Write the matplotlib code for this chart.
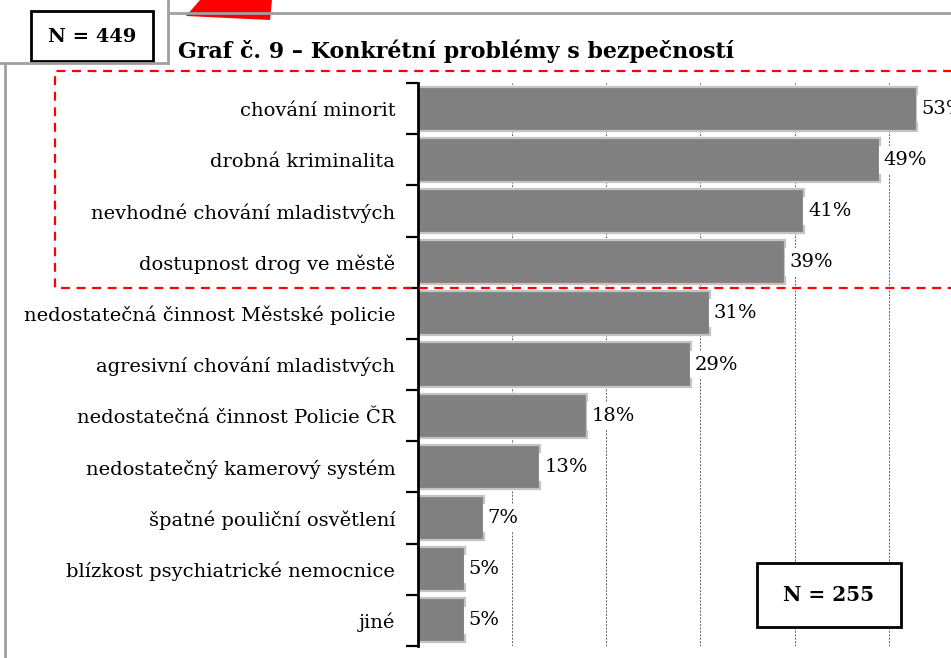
import matplotlib
matplotlib.use("Agg")
import matplotlib.pyplot as plt
from matplotlib.patches import Rectangle, Polygon
from matplotlib.lines import Line2D

# data
categories = [
    "chování minorit",
    "drobná kriminalita",
    "nevhodné chování mladistvých",
    "dostupnost drog ve městě",
    "nedostatečná činnost Městské policie",
    "agresivní chování mladistvých",
    "nedostatečná činnost Policie ČR",
    "nedostatečný kamerový systém",
    "špatné pouliční osvětlení",
    "blízkost psychiatrické nemocnice",
    "jiné",
]
values = [53, 49, 41, 39, 31, 29, 18, 13, 7, 5, 5]
title = "Graf č. 9 – Konkrétní problémy s bezpečností"
n_total = "N = 449"
n_chart = "N = 255"

W, H = 951, 658
FONT = "DejaVu Serif"
plt.rcParams["font.family"] = [FONT]


def fx(x):
    return x / W


def fy(y):
    return 1 - y / H


fig = plt.figure(figsize=(W / 100, H / 100), dpi=100)

# page decorations (gray frame lines of the document)
gray = "#a0a0a0"
for xs, ys in [((168, W), (13, 13)), ((168, 168), (0, 63)), ((0, 168), (63, 63)), ((5, 5), (63, H))]:
    fig.add_artist(Line2D([fx(x) for x in xs], [fy(y) for y in ys], color=gray, lw=2))
fig.add_artist(Polygon([(fx(186), fy(16)), (fx(200), fy(0)), (fx(272), fy(0)), (fx(270), fy(20))],
                       closed=True, color="#ff0000", lw=0))

# N = 449 box
fig.add_artist(Rectangle((fx(31), fy(61)), fx(153) - fx(31), fy(11) - fy(61),
                         fill=True, facecolor="white", edgecolor="black", lw=2))
fig.text(fx(92), fy(37), n_total, ha="center", va="center", fontsize=14, fontweight="bold")

# title
fig.text(fx(178), fy(58), title, ha="left", va="baseline", fontsize=15.9, fontweight="bold")

# chart axes
x0, px_per = 417.5, 9.43
ax = fig.add_axes([fx(x0), fy(646), 60 * px_per / W, (646 - 83) / H])
ax.set_xlim(0, 60)
ax.set_ylim(len(categories) - 0.5, -0.5)

pos = list(range(len(categories)))
ax.barh(pos, values, height=0.86, color="#808080", edgecolor="#c4c4c4", lw=1.6, zorder=2)

for xg in range(10, 70, 10):
    ax.axvline(xg, color="#606060", lw=0.7, ls=(0, (2, 1.5)), zorder=1)

for i, v in enumerate(values):
    ax.annotate(f"{v}%", (v, i), xytext=(3, 0), textcoords="offset points",
                ha="left", va="center", fontsize=14, zorder=3,
                bbox=dict(boxstyle="square,pad=0.25", fc="white", ec="none"))

ax.set_yticks(pos)
ax.set_yticklabels(categories, fontsize=14)
ax.tick_params(axis="y", which="major", length=0, pad=16)
ax.set_yticks([p - 0.5 for p in pos] + [len(pos) - 0.5], minor=True)
ax.tick_params(axis="y", which="minor", length=9, width=1.6, direction="out")
ax.set_xticks([])
for s in ("top", "right", "bottom"):
    ax.spines[s].set_visible(False)
ax.spines["left"].set_linewidth(2)
ax.set_facecolor("none")

# N = 255 box
fig.add_artist(Rectangle((fx(757), fy(627)), fx(901) - fx(757), fy(563) - fy(627),
                         facecolor="white", edgecolor="black", lw=2, zorder=5))
fig.text(fx(829), fy(595), n_chart, ha="center", va="center", fontsize=14.5, fontweight="bold", zorder=6)

# red dashed highlight around top four items
fig.add_artist(Line2D([fx(W + 5), fx(55), fx(55), fx(W + 5)], [fy(71), fy(71), fy(288), fy(288)],
                      color="#ff0000", lw=1.6, ls=(0, (4, 3)), zorder=10))

fig.savefig("out.png", dpi=100)
